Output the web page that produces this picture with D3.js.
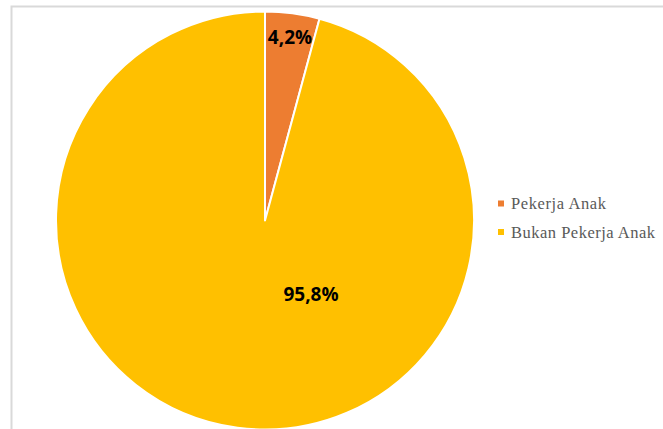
<!DOCTYPE html>
<html>
<head>
<meta charset="utf-8">
<script src="https://cdn.jsdelivr.net/npm/d3@7"></script>
<style>
html,body{margin:0;padding:0;background:#fff;}
svg{display:block;}
</style>
</head>
<body>
<svg id="chart" width="663" height="429"></svg>
<script>
const categories = ["Pekerja Anak", "Bukan Pekerja Anak"];
const values = [4.2, 95.8];
const labels = ["4,2%", "95,8%"];
const colors = ["#ED7D31", "#FFC000"];

const svg = d3.select("#chart");
const W = 663, H = 429;

// chart frame
svg.append("path")
  .attr("d", `M11.5,${H} L11.5,6.5 L${W},6.5`)
  .attr("fill", "none")
  .attr("stroke", "#d9d9d9")
  .attr("stroke-width", 2);

const cx = 265, cy = 220.5, r = 209;
const pie = d3.pie().sort(null).value(d => d)(values);
const arc = d3.arc().innerRadius(0).outerRadius(r);

const g = svg.append("g").attr("transform", `translate(${cx},${cy})`);
g.selectAll("path.slice")
  .data(pie)
  .join("path")
  .attr("class", "slice")
  .attr("d", arc)
  .attr("fill", (d, i) => colors[i])
  .attr("stroke", "#fff")
  .attr("stroke-width", 2)
  .attr("stroke-linejoin", "round");

// data labels
const labelPos = [[25, -184], [46, 73]];
g.selectAll("text.lbl")
  .data(pie)
  .join("text")
  .attr("class", "lbl")
  .attr("x", (d, i) => labelPos[i][0])
  .attr("y", (d, i) => labelPos[i][1])
  .attr("text-anchor", "middle")
  .attr("dominant-baseline", "central")
  .attr("font-family", "'Open Sans', sans-serif")
  .attr("font-weight", "bold")
  .attr("font-size", 19)
  .attr("fill", "#000")
  .text((d, i) => labels[i]);

// legend
const legendWidths = [95, 144];
const lg = svg.append("g");
categories.forEach((c, i) => {
  const y = 203.5 + i * 28.5;
  lg.append("rect")
    .attr("x", 498).attr("y", y - 3)
    .attr("width", 6).attr("height", 6)
    .attr("fill", colors[i]);
  lg.append("text")
    .attr("x", 511).attr("y", y + 5.5)
    .attr("font-family", "'Liberation Serif', 'Times New Roman', serif")
    .attr("font-size", 16.5)
    .attr("fill", "#595959")
    .attr("textLength", legendWidths[i])
    .attr("lengthAdjust", "spacing")
    .text(c);
});
</script>
</body>
</html>
